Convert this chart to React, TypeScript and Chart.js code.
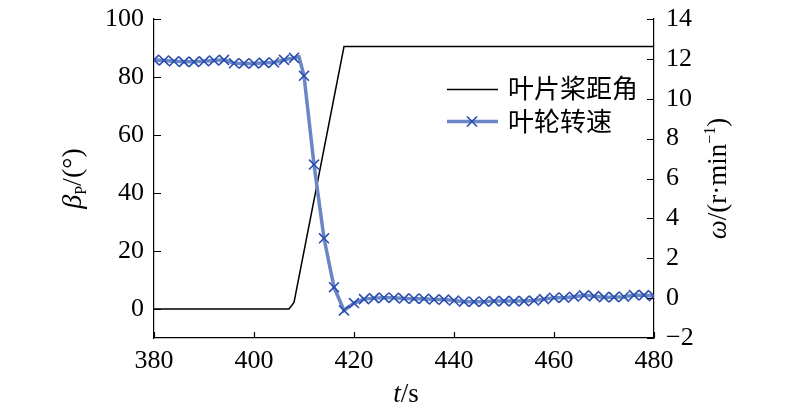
import { useEffect, useRef } from 'react';
import { Chart, registerables } from 'chart.js';

Chart.register(...registerables);

// Blade pitch angle (left axis, degrees)
const pitchTime = [380, 407, 408, 418, 480];
const pitchAngle = [0, 0, 2.3, 90.5, 90.5];

// Rotor speed (right axis, r/min)
const speedTime = [
  380, 382, 384, 386, 388, 390, 392, 394, 396, 398, 400, 402, 404, 406, 408, 409,
  410, 412, 414, 416, 418, 420, 422, 424, 426, 428, 430, 432, 434, 436, 438, 440,
  442, 444, 446, 448, 450, 452, 454, 456, 458, 460, 462, 464, 466, 468, 470, 472,
  474, 476, 478, 480,
];
const rotorSpeed = [
  11.95, 11.92, 11.88, 11.85, 11.85, 11.88, 11.92, 11.95, 11.78, 11.77, 11.77, 11.8, 11.82, 11.95, 12.05, 12.1,
  11.15, 6.7, 3.0, 0.55, -0.62, -0.25, -0.05, 0.0, 0.02, 0.02, -0.02, -0.03, -0.03, -0.07, -0.07, -0.12,
  -0.18, -0.18, -0.18, -0.15, -0.15, -0.15, -0.15, -0.12, -0.05, 0.02, 0.02, 0.07, 0.14, 0.1, 0.05, 0.05,
  0.07, 0.15, 0.15, 0.1,
];

const xRange = { min: 380, max: 480, step: 20 };
const leftRange = { min: -10, max: 100 };
const leftTickValues = [0, 20, 40, 60, 80, 100];
const rightRange = { min: -2, max: 14, step: 2 };

const legendLabels = ['叶片桨距角', '叶轮转速'];

const SERIF = '"Liberation Serif", "Times New Roman", serif';
const CJK = '"Noto Sans CJK SC", sans-serif';
const LINE_BLUE = '#6a86c6';
const MARK_BLUE = '#2b4fae';

type Seg = { t: string; font: string; dy?: number };

function drawRich(ctx: CanvasRenderingContext2D, segs: Seg[], cx: number, cy: number, rot: number) {
  ctx.save();
  ctx.translate(cx, cy);
  ctx.rotate(rot);
  ctx.textBaseline = 'alphabetic';
  ctx.textAlign = 'left';
  let w = 0;
  for (const s of segs) {
    ctx.font = s.font;
    w += ctx.measureText(s.t).width;
  }
  let x = -w / 2;
  for (const s of segs) {
    ctx.font = s.font;
    ctx.fillText(s.t, x, s.dy || 0);
    x += ctx.measureText(s.t).width;
  }
  ctx.restore();
}

const zeroPad = (s: any) => {
  s.paddingTop = 0;
  s.paddingBottom = 0;
  s.paddingLeft = 0;
  s.paddingRight = 0;
};

const decor = {
  id: 'decor',
  afterDraw(chart: any) {
    const { ctx, chartArea: a, scales } = chart;
    ctx.save();
    ctx.strokeStyle = '#000';
    ctx.fillStyle = '#000';
    ctx.lineWidth = 1.2;
    ctx.beginPath();
    for (const t of scales.y.ticks) {
      const py = Math.round(scales.y.getPixelForValue(t.value)) + 0.5;
      ctx.moveTo(a.left, py);
      ctx.lineTo(a.left + 7, py);
    }
    for (const t of scales.y1.ticks) {
      const py = Math.round(scales.y1.getPixelForValue(t.value)) + 0.5;
      ctx.moveTo(a.right, py);
      ctx.lineTo(a.right - 7, py);
    }
    for (const t of scales.x.ticks) {
      const px = Math.round(scales.x.getPixelForValue(t.value)) + 0.5;
      ctx.moveTo(px, a.bottom);
      ctx.lineTo(px, a.bottom - 6);
    }
    ctx.stroke();

    const midY = (a.top + a.bottom) / 2;
    // left axis title
    drawRich(ctx, [
      { t: 'β', font: `italic 28px ${SERIF}` },
      { t: 'P', font: `16px ${SERIF}`, dy: 5 },
      { t: '/(°)', font: `28px ${SERIF}` },
    ], 81, midY, -Math.PI / 2);
    // right axis title
    drawRich(ctx, [
      { t: 'ω', font: `italic 27px ${SERIF}` },
      { t: '/(r·min', font: `27px ${SERIF}` },
      { t: '−1', font: `16px ${SERIF}`, dy: -11 },
      { t: ')', font: `27px ${SERIF}` },
    ], 726, midY, -Math.PI / 2);
    // x axis title
    drawRich(ctx, [
      { t: 't', font: `italic 27px ${SERIF}` },
      { t: '/s', font: `27px ${SERIF}` },
    ], (a.left + a.right) / 2 + 2, 402, 0);

    // legend
    ctx.lineWidth = 1.5;
    ctx.strokeStyle = '#000';
    ctx.beginPath();
    ctx.moveTo(447, 89.5);
    ctx.lineTo(498, 89.5);
    ctx.stroke();
    ctx.lineWidth = 3.5;
    ctx.strokeStyle = LINE_BLUE;
    ctx.beginPath();
    ctx.moveTo(447, 121.5);
    ctx.lineTo(498, 121.5);
    ctx.stroke();
    ctx.lineWidth = 1.6;
    ctx.strokeStyle = MARK_BLUE;
    ctx.beginPath();
    ctx.moveTo(467, 116.5);
    ctx.lineTo(477, 126.5);
    ctx.moveTo(477, 116.5);
    ctx.lineTo(467, 126.5);
    ctx.stroke();
    ctx.font = `26px ${CJK}`;
    ctx.textBaseline = 'middle';
    ctx.textAlign = 'left';
    ctx.fillStyle = '#000';
    ctx.fillText(legendLabels[0], 508, 88);
    ctx.fillText(legendLabels[1], 508, 121);
    ctx.restore();
  },
};

export default function App() {
  const ref = useRef<HTMLCanvasElement>(null);
  useEffect(() => {
    const tickFont = { family: SERIF, size: 26 };
    const chart = new Chart(ref.current!, {
      type: 'line',
      data: {
        datasets: [
          {
            label: legendLabels[1],
            data: speedTime.map((t, i) => ({ x: t, y: rotorSpeed[i] })),
            yAxisID: 'y1',
            borderColor: LINE_BLUE,
            borderWidth: 3.5,
            pointStyle: 'crossRot',
            pointRadius: speedTime.map((t) => (t % 2 === 0 ? 7 : 0)),
            pointBorderColor: MARK_BLUE,
            pointBorderWidth: 1.6,
            pointBackgroundColor: MARK_BLUE,
            tension: 0,
            fill: false,
          },
          {
            label: legendLabels[0],
            data: pitchTime.map((t, i) => ({ x: t, y: pitchAngle[i] })),
            yAxisID: 'y',
            borderColor: '#000',
            borderWidth: 1.5,
            pointRadius: 0,
            tension: 0,
            fill: false,
          },
        ],
      },
      options: {
        responsive: false,
        animation: false,
        events: [],
        layout: { padding: { top: 19, left: 0, right: 0, bottom: 0 } },
        plugins: { legend: { display: false }, tooltip: { enabled: false } },
        scales: {
          x: {
            type: 'linear',
            position: 'bottom',
            min: xRange.min,
            max: xRange.max,
            ticks: { stepSize: xRange.step, font: tickFont, color: '#000', padding: 8, maxRotation: 0, autoSkip: false },
            grid: { drawOnChartArea: false, drawTicks: false },
            border: { color: '#000', width: 1.2 },
            afterFit: (s: any) => { s.height = 72; zeroPad(s); },
          },
          y: {
            type: 'linear',
            position: 'left',
            min: leftRange.min,
            max: leftRange.max,
            ticks: { font: tickFont, color: '#000', padding: 10, autoSkip: false },
            afterBuildTicks: (s: any) => { s.ticks = leftTickValues.map((v) => ({ value: v })); },
            grid: { drawOnChartArea: false, drawTicks: false },
            border: { color: '#000', width: 1.2 },
            afterFit: (s: any) => { s.width = 154; zeroPad(s); },
          },
          y1: {
            type: 'linear',
            position: 'right',
            min: rightRange.min,
            max: rightRange.max,
            ticks: {
              stepSize: rightRange.step, font: tickFont, color: '#000', padding: 12, autoSkip: false,
              callback: (v: any) => (v < 0 ? '−' + Math.abs(v) : String(v)),
            },
            grid: { drawOnChartArea: false, drawTicks: false },
            border: { color: '#000', width: 1.2 },
            afterFit: (s: any) => { s.width = 146; zeroPad(s); },
          },
        },
      },
      plugins: [decor],
    });
    return () => chart.destroy();
  }, []);
  return (
    <div style={{ position: 'fixed', left: 0, top: 0, width: 800, height: 410, background: '#fff' }}>
      <canvas ref={ref} width={800} height={410} style={{ width: 800, height: 410, display: 'block' }} />
    </div>
  );
}
